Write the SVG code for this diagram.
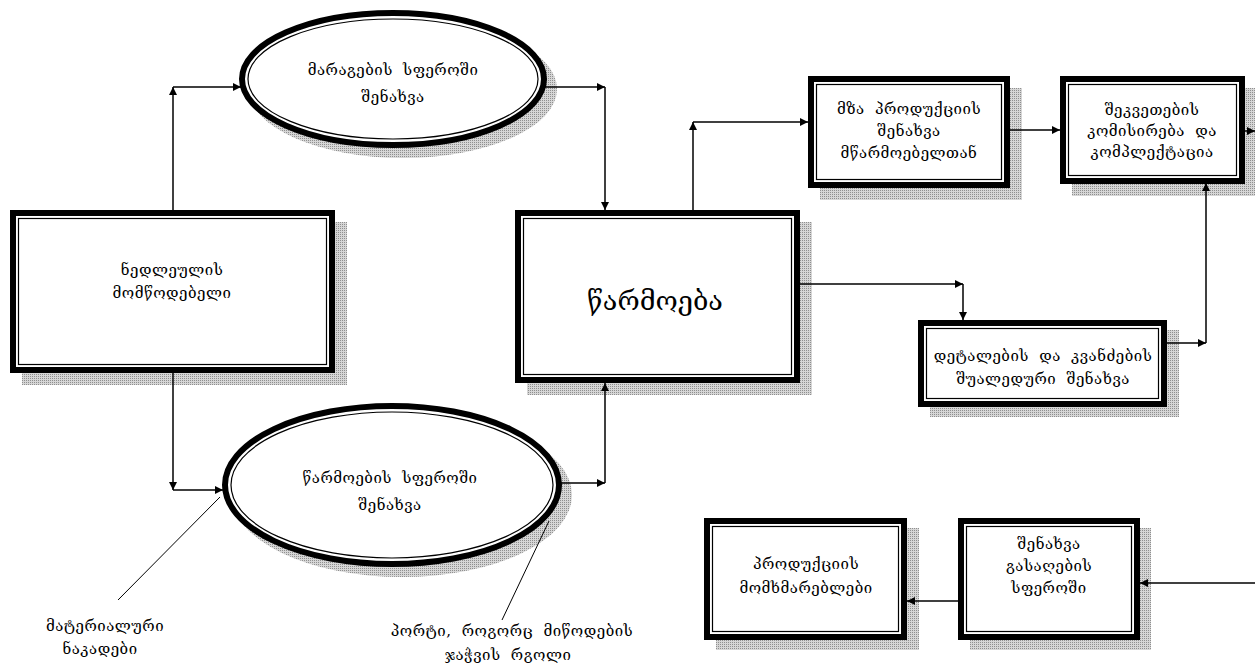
<svg xmlns="http://www.w3.org/2000/svg" width="1255" height="666" viewBox="0 0 1255 666">
<defs>
  <pattern id="dots" width="2" height="2" patternUnits="userSpaceOnUse">
    <rect width="2" height="2" fill="#d6d6d6"/>
    <rect width="1" height="1" fill="#8f8f8f"/>
  </pattern>
  <marker id="ah" viewBox="0 0 10 10" refX="10" refY="5" markerWidth="9" markerHeight="8" markerUnits="userSpaceOnUse" orient="auto">
    <path d="M0,0 L10,5 L0,10 Z" fill="#000"/>
  </marker>
  <style>
    .shadow{fill:url(#dots);stroke:none}
    .outer{fill:#fff;stroke:#000;stroke-width:6}
    .inner{fill:none;stroke:#000;stroke-width:1.2}
    .c{fill:none;stroke:#000;stroke-width:1.5;marker-end:url(#ah)}
    .lead{fill:none;stroke:#000;stroke-width:1}
    text{font-family:"DejaVu Serif","DejaVu Sans",sans-serif;font-size:15px;letter-spacing:0.5px;word-spacing:5px;fill:#000;text-anchor:middle;dominant-baseline:central}
    .big{font-size:27px;letter-spacing:0}
  </style>
</defs>
<rect width="1255" height="666" fill="#fff"/>

<g id="stock-storage">
  <ellipse class="shadow" cx="403" cy="89" rx="154" ry="69"/>
  <ellipse class="outer" cx="393" cy="79" rx="151" ry="66"/>
  <ellipse class="inner" cx="393" cy="79" rx="145" ry="60"/>
  <text x="393" y="70">მარაგების სფეროში</text>
  <text x="393" y="97">შენახვა</text>
</g>

<g id="raw-supplier">
  <rect class="shadow" x="22" y="222" width="325" height="163"/>
  <rect class="outer" x="13" y="213" width="319" height="157"/>
  <rect class="inner" x="18.5" y="218.5" width="308" height="146"/>
  <text x="172" y="270">ნედლეულის</text>
  <text x="172" y="293">მომწოდებელი</text>
</g>

<g id="production">
  <rect class="shadow" x="527" y="222" width="285" height="173"/>
  <rect class="outer" x="518" y="213" width="279" height="167"/>
  <rect class="inner" x="523.5" y="218.5" width="268" height="156"/>
  <text class="big" x="655" y="300">წარმოება</text>
</g>

<g id="finished-storage">
  <rect class="shadow" x="820" y="88" width="202" height="112"/>
  <rect class="outer" x="811" y="79" width="196" height="106"/>
  <rect class="inner" x="816.5" y="84.5" width="185" height="95"/>
  <text x="909" y="109">მზა პროდუქციის</text>
  <text x="909" y="131">შენახვა</text>
  <text x="909" y="153">მწარმოებელთან</text>
</g>

<g id="order-picking">
  <rect class="shadow" x="1072" y="88" width="183" height="108"/>
  <rect class="outer" x="1063" y="79" width="179" height="102"/>
  <rect class="inner" x="1068.5" y="84.5" width="168" height="91"/>
  <text x="1152" y="110">შეკვეთების</text>
  <text x="1152" y="131">კომისირება და</text>
  <text x="1152" y="152">კომპლექტაცია</text>
</g>

<g id="intermediate-storage">
  <rect class="shadow" x="930" y="330" width="249" height="87"/>
  <rect class="outer" x="921" y="323" width="243" height="81"/>
  <rect class="inner" x="926.5" y="328.5" width="232" height="70"/>
  <text x="1043" y="356">დეტალების და კვანძების</text>
  <text x="1043" y="379">შუალედური შენახვა</text>
</g>

<g id="production-storage">
  <ellipse class="shadow" cx="402" cy="495" rx="170" ry="82"/>
  <ellipse class="outer" cx="392" cy="485" rx="167" ry="79"/>
  <ellipse class="inner" cx="392" cy="485" rx="161" ry="73"/>
  <text x="390" y="478">წარმოების სფეროში</text>
  <text x="390" y="505">შენახვა</text>
</g>

<g id="material-flows-label">
  <text x="105" y="626">მატერიალური</text>
  <text x="100" y="649">ნაკადები</text>
</g>

<g id="port-label">
  <text x="512" y="631">პორტი, როგორც მიწოდების</text>
  <text x="508" y="655">ჯაჭვის რგოლი</text>
</g>

<g id="consumers">
  <rect class="shadow" x="716" y="528" width="203" height="122"/>
  <rect class="outer" x="707" y="521" width="197" height="116"/>
  <rect class="inner" x="712.5" y="526.5" width="186" height="105"/>
  <text x="806" y="564">პროდუქციის</text>
  <text x="806" y="588">მომხმარებლები</text>
</g>

<g id="sales-storage">
  <rect class="shadow" x="970" y="528" width="181" height="122"/>
  <rect class="outer" x="961" y="521" width="176" height="116"/>
  <rect class="inner" x="966.5" y="526.5" width="165" height="105"/>
  <text x="1049" y="544">შენახვა</text>
  <text x="1049" y="566">გასაღების</text>
  <text x="1049" y="588">სფეროში</text>
</g>

<g id="connectors">
  <line class="c" x1="173" y1="210" x2="173" y2="87"/>
  <line class="c" x1="173" y1="87" x2="241" y2="87"/>
  <line class="c" x1="545" y1="87" x2="605" y2="87"/>
  <line class="c" x1="605" y1="87" x2="605" y2="210"/>
  <line class="c" x1="693" y1="210" x2="693" y2="122"/>
  <line class="c" x1="693" y1="122" x2="808" y2="122"/>
  <line class="c" x1="1010" y1="130" x2="1060" y2="130"/>
  <line class="c" x1="1245" y1="131" x2="1255" y2="131"/>
  <line class="c" x1="800" y1="284" x2="963" y2="284"/>
  <line class="c" x1="963" y1="284" x2="963" y2="320"/>
  <line class="c" x1="1167" y1="343" x2="1206" y2="343"/>
  <line class="c" x1="1206" y1="343" x2="1206" y2="183"/>
  <line class="c" x1="173" y1="373" x2="173" y2="490"/>
  <line class="c" x1="173" y1="490" x2="223" y2="490"/>
  <line class="c" x1="560" y1="483" x2="605" y2="483"/>
  <line class="c" x1="605" y1="483" x2="605" y2="383"/>
  <line class="c" x1="1255" y1="583" x2="1140" y2="583"/>
  <line class="c" x1="958" y1="601" x2="907" y2="601"/>
  <line class="lead" x1="220" y1="497" x2="118" y2="600"/>
  <line class="lead" x1="549" y1="521" x2="502" y2="620"/>
</g>
</svg>
